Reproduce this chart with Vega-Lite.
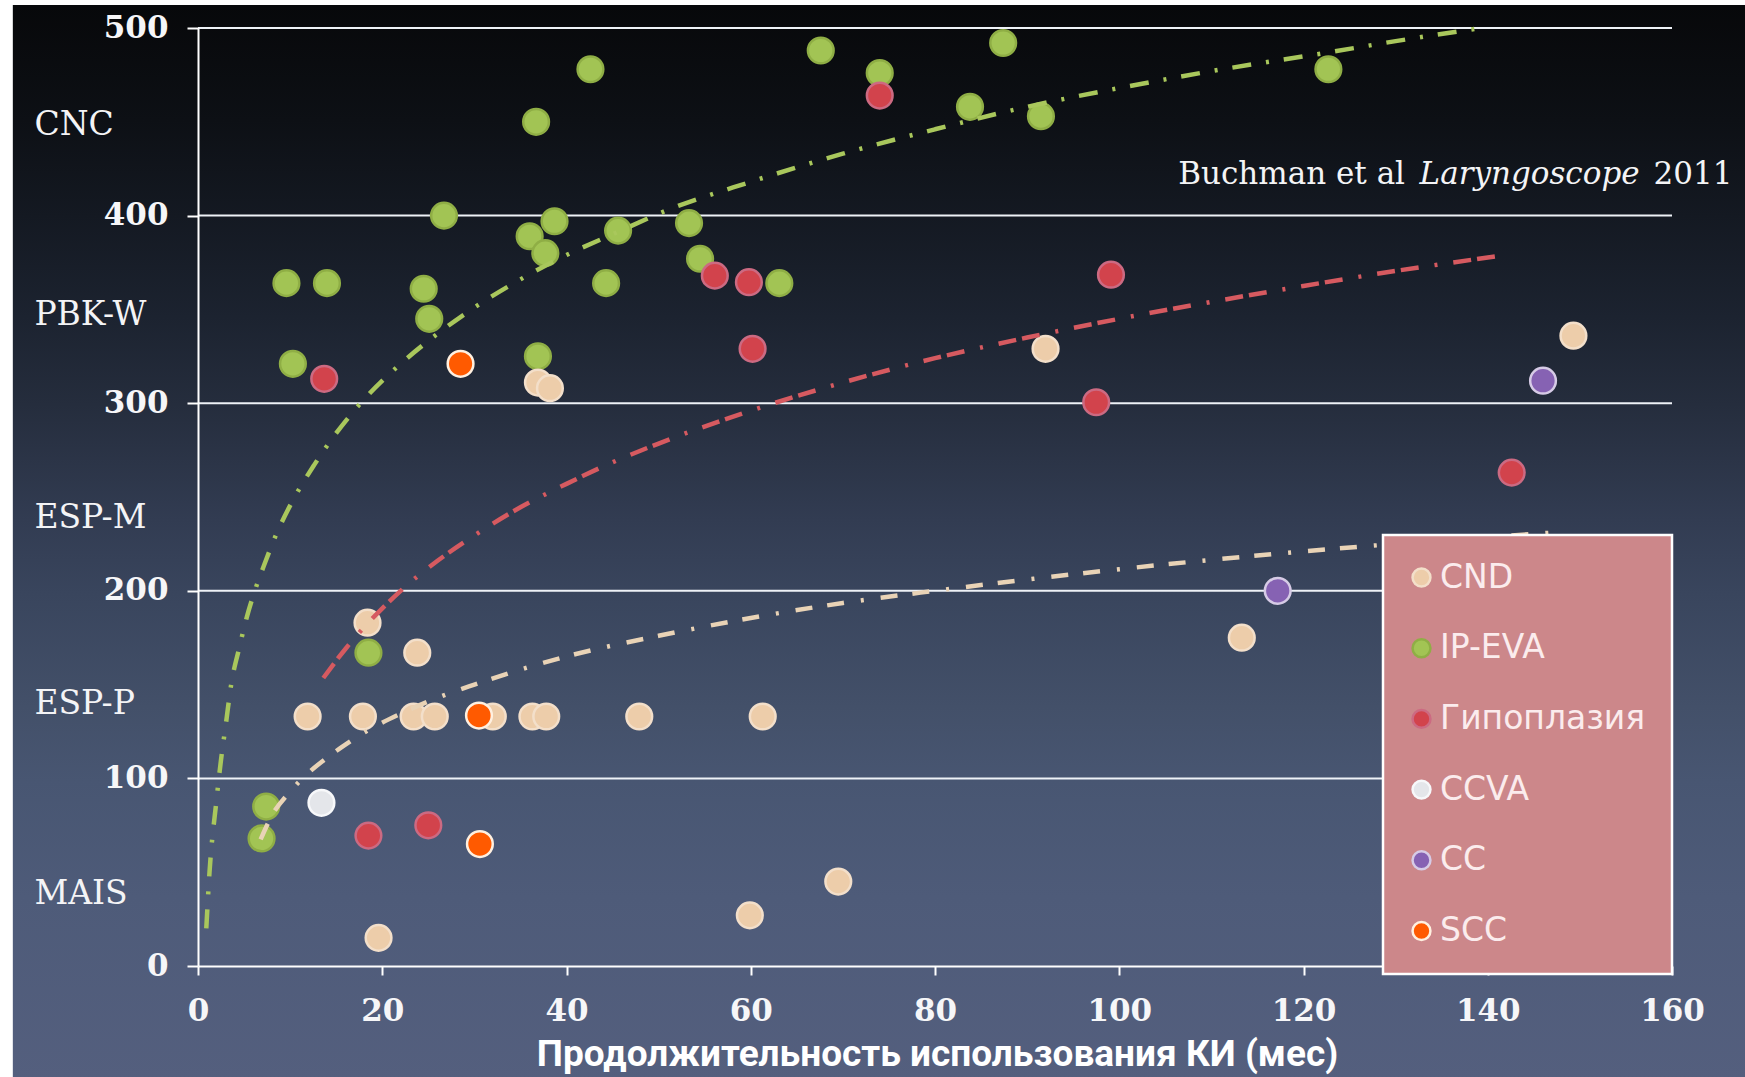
{
  "$schema": "https://vega.github.io/schema/vega-lite/v6.json",
  "width": 1474,
  "height": 938,
  "autosize": {"type": "none"},
  "padding": {"left": 198, "top": 28, "right": 73, "bottom": 111},
  "background": "#ffffff",
  "config": {
    "view": {"stroke": null},
    "axis": {
      "grid": false,
      "domainColor": "#ffffff",
      "domainWidth": 2,
      "tickColor": "#ffffff",
      "tickWidth": 2,
      "labelFont": "DejaVu Serif",
      "labelFontWeight": "bold",
      "labelFontSize": 31,
      "labelColor": "#f6f6f8",
      "labelOverlap": false,
      "labelFlush": false
    },
    "legend": {
      "labelFont": "DejaVu Sans",
      "labelFontSize": 33,
      "labelColor": "#fbeced",
      "symbolSize": 320,
      "symbolStrokeWidth": 2.5,
      "symbolType": "circle",
      "rowPadding": 36.7,
      "padding": 26,
      "fillColor": "#cc878a",
      "strokeColor": "#ffffff",
      "strokeWidth": 2.5,
      "labelOffset": 2,
      "symbolOffset": -4,
      "labelLimit": 400,
      "zindex": 2
    }
  },
  "datasets": {
    "points": [
      {"group": "IP-EVA", "x": 9.6, "y": 364},
      {"group": "IP-EVA", "x": 14.0, "y": 364},
      {"group": "IP-EVA", "x": 10.3, "y": 321},
      {"group": "IP-EVA", "x": 26.7, "y": 400},
      {"group": "IP-EVA", "x": 24.5, "y": 361},
      {"group": "IP-EVA", "x": 25.1, "y": 345},
      {"group": "IP-EVA", "x": 36.7, "y": 450},
      {"group": "IP-EVA", "x": 42.6, "y": 478},
      {"group": "IP-EVA", "x": 36.0, "y": 389},
      {"group": "IP-EVA", "x": 38.7, "y": 397},
      {"group": "IP-EVA", "x": 37.7, "y": 380},
      {"group": "IP-EVA", "x": 45.6, "y": 392},
      {"group": "IP-EVA", "x": 44.3, "y": 364},
      {"group": "IP-EVA", "x": 36.9, "y": 325},
      {"group": "IP-EVA", "x": 53.3, "y": 396},
      {"group": "IP-EVA", "x": 54.5, "y": 377},
      {"group": "IP-EVA", "x": 63.1, "y": 364},
      {"group": "IP-EVA", "x": 67.6, "y": 488},
      {"group": "IP-EVA", "x": 74.0, "y": 476},
      {"group": "IP-EVA", "x": 83.8, "y": 458},
      {"group": "IP-EVA", "x": 87.4, "y": 492},
      {"group": "IP-EVA", "x": 91.5, "y": 453},
      {"group": "IP-EVA", "x": 122.7, "y": 478},
      {"group": "IP-EVA", "x": 18.5, "y": 167},
      {"group": "IP-EVA", "x": 7.4, "y": 85},
      {"group": "IP-EVA", "x": 6.9, "y": 68},
      {"group": "CND", "x": 18.4, "y": 183},
      {"group": "CND", "x": 23.8, "y": 167},
      {"group": "CND", "x": 11.9, "y": 133},
      {"group": "CND", "x": 17.9, "y": 133},
      {"group": "CND", "x": 23.4, "y": 133},
      {"group": "CND", "x": 25.7, "y": 133},
      {"group": "CND", "x": 32.0, "y": 133},
      {"group": "CND", "x": 36.3, "y": 133},
      {"group": "CND", "x": 37.8, "y": 133},
      {"group": "CND", "x": 47.9, "y": 133},
      {"group": "CND", "x": 61.3, "y": 133},
      {"group": "CND", "x": 36.9, "y": 311},
      {"group": "CND", "x": 38.2, "y": 308},
      {"group": "CND", "x": 92.0, "y": 329},
      {"group": "CND", "x": 113.3, "y": 175},
      {"group": "CND", "x": 149.3, "y": 336},
      {"group": "CND", "x": 59.9, "y": 27},
      {"group": "CND", "x": 69.5, "y": 45},
      {"group": "CND", "x": 19.6, "y": 15},
      {"group": "Гипоплазия", "x": 13.7, "y": 313},
      {"group": "Гипоплазия", "x": 56.1, "y": 368},
      {"group": "Гипоплазия", "x": 59.8, "y": 364.5},
      {"group": "Гипоплазия", "x": 60.2, "y": 329},
      {"group": "Гипоплазия", "x": 74.0, "y": 464},
      {"group": "Гипоплазия", "x": 99.1, "y": 368.5},
      {"group": "Гипоплазия", "x": 97.5, "y": 300.5},
      {"group": "Гипоплазия", "x": 142.6, "y": 263},
      {"group": "Гипоплазия", "x": 18.5, "y": 69.5},
      {"group": "Гипоплазия", "x": 25.0, "y": 75},
      {"group": "CCVA", "x": 13.4, "y": 87},
      {"group": "CC", "x": 146.0, "y": 312},
      {"group": "CC", "x": 117.2, "y": 200},
      {"group": "SCC", "x": 28.5, "y": 321},
      {"group": "SCC", "x": 30.5, "y": 133.5},
      {"group": "SCC", "x": 30.6, "y": 65}
    ],
    "curves": [
      {"s": "g", "x": 0.9, "y": 20},
      {"s": "g", "x": 1.25, "y": 50},
      {"s": "g", "x": 2, "y": 88},
      {"s": "g", "x": 2.5, "y": 110},
      {"s": "g", "x": 3, "y": 128},
      {"s": "g", "x": 3.6, "y": 150},
      {"s": "g", "x": 4.5, "y": 170},
      {"s": "g", "x": 5.3, "y": 186},
      {"s": "g", "x": 6.1, "y": 199},
      {"s": "g", "x": 7.2, "y": 214},
      {"s": "g", "x": 8.4, "y": 229},
      {"s": "g", "x": 10.5, "y": 250},
      {"s": "g", "x": 12.6, "y": 267},
      {"s": "g", "x": 15, "y": 284},
      {"s": "g", "x": 18.4, "y": 304},
      {"s": "g", "x": 22, "y": 321},
      {"s": "g", "x": 26, "y": 337},
      {"s": "g", "x": 30, "y": 351},
      {"s": "g", "x": 35, "y": 366},
      {"s": "g", "x": 40, "y": 379},
      {"s": "g", "x": 45, "y": 390},
      {"s": "g", "x": 51, "y": 403},
      {"s": "g", "x": 60, "y": 418},
      {"s": "g", "x": 70, "y": 433},
      {"s": "g", "x": 80, "y": 446},
      {"s": "g", "x": 90, "y": 458},
      {"s": "g", "x": 100, "y": 468},
      {"s": "g", "x": 110, "y": 477},
      {"s": "g", "x": 122.7, "y": 487},
      {"s": "g", "x": 130, "y": 493},
      {"s": "g", "x": 139.3, "y": 500},
      {"s": "r", "x": 13.6, "y": 153.5},
      {"s": "r", "x": 16, "y": 169},
      {"s": "r", "x": 18.4, "y": 182.5},
      {"s": "r", "x": 22, "y": 200},
      {"s": "r", "x": 26, "y": 216},
      {"s": "r", "x": 30, "y": 229.5},
      {"s": "r", "x": 35, "y": 244.5},
      {"s": "r", "x": 40, "y": 257},
      {"s": "r", "x": 45, "y": 268.5},
      {"s": "r", "x": 50, "y": 278.5},
      {"s": "r", "x": 60, "y": 296},
      {"s": "r", "x": 70, "y": 311},
      {"s": "r", "x": 80, "y": 324},
      {"s": "r", "x": 90, "y": 335},
      {"s": "r", "x": 100, "y": 345},
      {"s": "r", "x": 110, "y": 354},
      {"s": "r", "x": 120, "y": 362.5},
      {"s": "r", "x": 130, "y": 370.5},
      {"s": "r", "x": 142, "y": 379},
      {"s": "c", "x": 6.8, "y": 67.5},
      {"s": "c", "x": 8, "y": 80},
      {"s": "c", "x": 10, "y": 93},
      {"s": "c", "x": 12, "y": 103},
      {"s": "c", "x": 14, "y": 111},
      {"s": "c", "x": 16, "y": 118},
      {"s": "c", "x": 18.4, "y": 125.5},
      {"s": "c", "x": 22, "y": 134.5},
      {"s": "c", "x": 26, "y": 143},
      {"s": "c", "x": 30, "y": 150},
      {"s": "c", "x": 35, "y": 158},
      {"s": "c", "x": 40, "y": 165},
      {"s": "c", "x": 50, "y": 176},
      {"s": "c", "x": 60, "y": 185.5},
      {"s": "c", "x": 70, "y": 193.5},
      {"s": "c", "x": 80, "y": 200},
      {"s": "c", "x": 90, "y": 206},
      {"s": "c", "x": 100, "y": 211.5},
      {"s": "c", "x": 110, "y": 216.5},
      {"s": "c", "x": 120, "y": 221},
      {"s": "c", "x": 130, "y": 225},
      {"s": "c", "x": 147, "y": 231}
    ],
    "grid": [{"g": 100}, {"g": 200}, {"g": 300}, {"g": 400}, {"g": 500}],
    "levels": [
      {"t": "CNC", "v": 448.5},
      {"t": "PBK-W", "v": 347},
      {"t": "ESP-M", "v": 239},
      {"t": "ESP-P", "v": 139.5},
      {"t": "MAIS", "v": 38.5}
    ]
  },
  "layer": [
    {
      "data": {"values": [{}]},
      "mark": {
        "type": "rect",
        "fill": {
          "gradient": "linear",
          "x1": 0, "y1": 0, "x2": 0, "y2": 1,
          "stops": [
            {"offset": 0, "color": "#07080a"},
            {"offset": 0.107, "color": "#0d1015"},
            {"offset": 0.196, "color": "#141922"},
            {"offset": 0.29, "color": "#1c2330"},
            {"offset": 0.371, "color": "#252d3d"},
            {"offset": 0.478, "color": "#323c52"},
            {"offset": 0.546, "color": "#39455d"},
            {"offset": 0.652, "color": "#435069"},
            {"offset": 0.721, "color": "#485672"},
            {"offset": 0.828, "color": "#4e5b79"},
            {"offset": 1, "color": "#545f7e"}
          ]
        }
      },
      "encoding": {
        "x": {
          "datum": -20.1, "type": "quantitative",
          "scale": {"domain": [0, 160], "nice": false, "zero": false},
          "axis": {
            "values": [0, 20, 40, 60, 80, 100, 120, 140, 160],
            "tickSize": 9,
            "labelPadding": 21,
            "title": "Продолжительность использования КИ (мес)",
            "titleFont": "Roboto",
            "titleFontWeight": "bold",
            "titleFontSize": 37,
            "titleColor": "#ffffff",
            "titleX": 739,
            "titleY": 99,
            "titleAlign": "center",
            "titleBaseline": "alphabetic",
            "zindex": 1
          }
        },
        "x2": {"datum": 170},
        "y": {
          "datum": 512.3, "type": "quantitative",
          "scale": {"domain": [0, 500], "nice": false, "zero": false},
          "axis": {
            "values": [0, 100, 200, 300, 400, 500],
            "tickSize": 11,
            "labelPadding": 19,
            "title": null,
            "zindex": 1
          }
        },
        "y2": {"datum": -62}
      }
    },
    {
      "data": {"name": "grid"},
      "mark": {"type": "rule", "color": "#eef2f7", "strokeWidth": 2},
      "encoding": {
        "y": {"field": "g", "type": "quantitative", "scale": {"domain": [0, 500], "nice": false, "zero": false}}
      }
    },
    {
      "data": {"name": "points"},
      "mark": {"type": "circle", "size": 660, "opacity": 1, "strokeWidth": 2.5},
      "encoding": {
        "x": {"field": "x", "type": "quantitative", "scale": {"domain": [0, 160], "nice": false, "zero": false}},
        "y": {"field": "y", "type": "quantitative", "scale": {"domain": [0, 500], "nice": false, "zero": false}},
        "fill": {
          "field": "group", "type": "nominal",
          "scale": {
            "domain": ["CND", "IP-EVA", "Гипоплазия", "CCVA", "CC", "SCC"],
            "range": ["#edcdaa", "#a2c454", "#d2434c", "#e4e6ea", "#8662b3", "#ff5a00"]
          },
          "legend": {"title": null, "orient": "none", "legendX": 1185, "legendY": 507, "zindex": 2}
        },
        "stroke": {
          "field": "group", "type": "nominal",
          "scale": {
            "domain": ["CND", "IP-EVA", "Гипоплазия", "CCVA", "CC", "SCC"],
            "range": ["#f3dfca", "#8fae45", "#cc6a82", "#f7f8fa", "#d6cbe6", "#fff0e0"]
          },
          "legend": {"title": null, "orient": "none", "legendX": 1185, "legendY": 507, "zindex": 2}
        }
      }
    },
    {
      "data": {"name": "curves"},
      "transform": [{"filter": "datum.s === 'c'"}],
      "mark": {"type": "line", "color": "#e9d3b6", "strokeWidth": 4.5, "strokeDash": [17, 15, 17, 17, 3, 17], "strokeCap": "butt", "interpolate": "monotone"},
      "encoding": {
        "x": {"field": "x", "type": "quantitative", "scale": {"domain": [0, 160], "nice": false, "zero": false}},
        "y": {"field": "y", "type": "quantitative", "scale": {"domain": [0, 500], "nice": false, "zero": false}}
      }
    },
    {
      "data": {"name": "curves"},
      "transform": [{"filter": "datum.s === 'r'"}],
      "mark": {"type": "line", "color": "#d65a60", "strokeWidth": 4.5, "strokeDash": [18, 6, 18, 16, 3, 16], "strokeCap": "butt", "interpolate": "monotone"},
      "encoding": {
        "x": {"field": "x", "type": "quantitative", "scale": {"domain": [0, 160], "nice": false, "zero": false}},
        "y": {"field": "y", "type": "quantitative", "scale": {"domain": [0, 500], "nice": false, "zero": false}}
      }
    },
    {
      "data": {"name": "curves"},
      "transform": [{"filter": "datum.s === 'g'"}],
      "mark": {"type": "line", "color": "#a9c75c", "strokeWidth": 4.5, "strokeDash": [19, 15, 3, 15], "strokeCap": "butt", "interpolate": "monotone"},
      "encoding": {
        "x": {"field": "x", "type": "quantitative", "scale": {"domain": [0, 160], "nice": false, "zero": false}},
        "y": {"field": "y", "type": "quantitative", "scale": {"domain": [0, 500], "nice": false, "zero": false}}
      }
    },
    {
      "data": {"name": "levels"},
      "mark": {"type": "text", "align": "left", "baseline": "middle", "font": "DejaVu Serif", "fontSize": 33, "color": "#f4f4f6"},
      "encoding": {
        "x": {"datum": -17.76, "type": "quantitative", "scale": {"domain": [0, 160], "nice": false, "zero": false}},
        "y": {"field": "v", "type": "quantitative", "scale": {"domain": [0, 500], "nice": false, "zero": false}},
        "text": {"field": "t", "type": "nominal"}
      }
    },
    {
      "data": {"values": [{"t": "Buchman et al"}]},
      "mark": {"type": "text", "align": "left", "baseline": "middle", "font": "DejaVu Serif", "fontSize": 31, "color": "#f4f4f6"},
      "encoding": {
        "x": {"datum": 106.4, "type": "quantitative", "scale": {"domain": [0, 160], "nice": false, "zero": false}},
        "y": {"datum": 421.8, "type": "quantitative", "scale": {"domain": [0, 500], "nice": false, "zero": false}},
        "text": {"field": "t", "type": "nominal"}
      }
    },
    {
      "data": {"values": [{"t": "Laryngoscope"}]},
      "mark": {"type": "text", "align": "left", "baseline": "middle", "font": "DejaVu Serif", "fontStyle": "italic", "fontSize": 31, "color": "#f4f4f6"},
      "encoding": {
        "x": {"datum": 132.6, "type": "quantitative", "scale": {"domain": [0, 160], "nice": false, "zero": false}},
        "y": {"datum": 421.8, "type": "quantitative", "scale": {"domain": [0, 500], "nice": false, "zero": false}},
        "text": {"field": "t", "type": "nominal"}
      }
    },
    {
      "data": {"values": [{"t": "2011"}]},
      "mark": {"type": "text", "align": "left", "baseline": "middle", "font": "DejaVu Serif", "fontSize": 31, "color": "#f4f4f6"},
      "encoding": {
        "x": {"datum": 158.0, "type": "quantitative", "scale": {"domain": [0, 160], "nice": false, "zero": false}},
        "y": {"datum": 421.8, "type": "quantitative", "scale": {"domain": [0, 500], "nice": false, "zero": false}},
        "text": {"field": "t", "type": "nominal"}
      }
    }
  ]
}
